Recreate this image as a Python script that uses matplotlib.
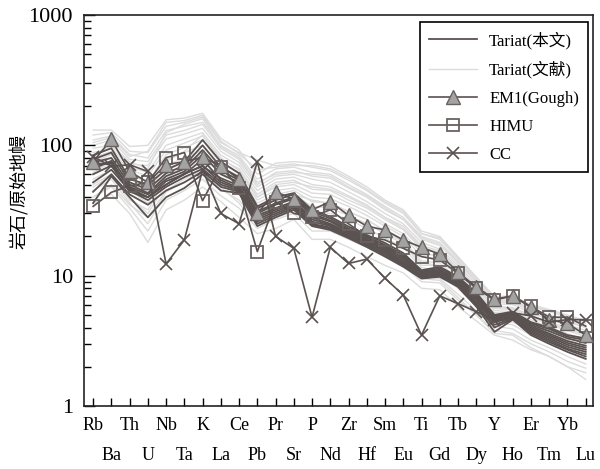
import matplotlib
matplotlib.use("Agg")
from matplotlib import pyplot as plt
from matplotlib.ticker import LogLocator, NullFormatter

plt.rcParams['font.family'] = ['Liberation Serif', 'Noto Sans CJK SC']

elements = ['Rb', 'Ba', 'Th', 'U', 'Nb', 'Ta', 'K', 'La', 'Ce', 'Pb', 'Pr', 'Sr', 'P', 'Nd',
            'Zr', 'Hf', 'Sm', 'Eu', 'Ti', 'Gd', 'Tb', 'Dy', 'Y', 'Ho', 'Er', 'Tm', 'Yb', 'Lu']

# Tariat (this study) - primitive mantle normalised
tariat_this = [
    [84, 95, 55, 50, 65, 75, 110, 75, 61, 34, 40, 43, 32, 28.4, 23.8, 20.5, 17.8, 14.9, 11.0, 11.7, 9.8, 7.4, 5.0, 5.3, 4.4, 4.0, 3.5, 3.3],
    [78, 88, 52, 46, 61, 70, 100, 68, 57, 33, 38, 42, 31, 27.5, 23, 20, 17.2, 14.4, 10.8, 11.4, 9.6, 7.2, 4.9, 5.2, 4.3, 3.9, 3.4, 3.2],
    [74, 80, 50, 43, 58, 66, 92, 64, 54, 31, 36, 40, 30, 26.5, 22.5, 19.5, 16.8, 14.0, 10.6, 11.1, 9.4, 7.0, 4.8, 5.1, 4.2, 3.75, 3.3, 3.05],
    [71, 74, 48, 42, 55, 63, 85, 60, 52, 30, 35, 39, 29, 26, 22, 19, 16.4, 13.6, 10.4, 10.9, 9.2, 6.8, 4.7, 5.0, 4.1, 3.6, 3.15, 2.9],
    [70, 73, 47, 40, 50, 61, 69, 56, 49, 29, 33, 37, 28, 25, 21.5, 18.6, 16, 13.2, 10.2, 10.7, 9.0, 6.6, 4.6, 4.9, 4.0, 3.5, 3.05, 2.8],
    [66, 76, 46, 40, 53, 60, 78, 54, 47, 28, 32, 36, 27, 24.5, 21, 18.2, 15.6, 12.8, 10.1, 10.5, 8.8, 6.4, 4.5, 4.8, 3.9, 3.4, 2.95, 2.7],
    [60, 70, 44, 40, 50, 60, 70, 52, 46, 27, 31, 35, 26, 24, 20.5, 17.8, 15.2, 12.5, 10, 10.3, 8.6, 6.2, 4.4, 4.75, 3.8, 3.3, 2.85, 2.6],
    [52, 65, 45, 38, 48, 57, 66, 50, 45, 26, 30, 34, 25, 23.4, 20, 17.4, 14.8, 12.2, 9.8, 10.1, 8.5, 6.0, 4.2, 4.7, 3.7, 3.2, 2.75, 2.5],
    [44, 60, 42, 35, 45, 52, 63, 48, 44, 25, 29, 33, 24.5, 23, 19.8, 17, 14.4, 12, 9.6, 10, 8.3, 5.9, 4.0, 4.65, 3.6, 3.1, 2.7, 2.4],
    [36, 58, 40, 28, 40, 47, 60, 45, 43, 24, 28, 32, 24, 22.4, 19.4, 16.6, 14, 11.7, 9.5, 9.8, 8.2, 5.8, 3.7, 4.6, 3.5, 3.0, 2.6, 2.3],
]

# Tariat (literature)
tariat_lit = [
    [131, 131, 98, 100, 157, 162, 176, 113, 92, 60, 73, 75, 73, 69, 58, 48, 38, 32, 22, 20, 14, 9.8, 6.9, 7.0, 6.0, 5.5, 5.0, 4.5],
    [120, 125, 90, 88, 140, 150, 165, 105, 88, 77, 70, 72, 68, 64, 54, 45, 36, 30, 21, 19, 13.5, 9.5, 6.7, 6.8, 5.8, 5.3, 4.8, 4.3],
    [110, 118, 85, 80, 130, 140, 150, 100, 83, 55, 66, 68, 62, 60, 50, 42, 34, 28, 20, 18, 13, 9.2, 6.5, 6.5, 5.6, 5.0, 4.6, 4.1],
    [100, 110, 78, 75, 120, 130, 145, 95, 78, 50, 62, 64, 58, 56, 47, 40, 32, 27, 19, 17, 12.5, 9.0, 6.3, 6.2, 5.4, 4.8, 4.4, 4.0],
    [95, 100, 72, 70, 112, 122, 135, 90, 74, 48, 58, 60, 55, 52, 44, 37, 30, 25, 18, 16, 12, 8.6, 6.1, 6.0, 5.2, 4.6, 4.2, 3.8],
    [88, 95, 68, 62, 100, 112, 125, 84, 70, 45, 55, 57, 50, 48, 41, 35, 28, 24, 17, 15.5, 11.5, 8.3, 5.8, 5.7, 5.0, 4.4, 4.0, 3.6],
    [80, 90, 65, 58, 92, 104, 118, 78, 66, 42, 52, 54, 46, 45, 38, 33, 27, 22.5, 16, 15, 11, 8.0, 5.6, 5.5, 4.8, 4.2, 3.8, 3.4],
    [75, 85, 60, 52, 85, 96, 110, 72, 62, 40, 48, 50, 43, 42, 36, 31, 25, 21, 15, 14, 10.5, 7.6, 5.4, 5.3, 4.6, 4.0, 3.6, 3.2],
    [70, 80, 56, 48, 78, 88, 100, 68, 58, 38, 45, 47, 40, 39, 34, 29, 24, 20, 14, 13.2, 10, 7.2, 5.2, 5.1, 4.4, 3.8, 3.4, 3.0],
    [65, 75, 52, 44, 70, 80, 92, 64, 54, 36, 42, 45, 37, 36, 31, 27, 22, 18.5, 13, 12.5, 9.5, 6.8, 5.0, 4.9, 4.2, 3.6, 3.2, 2.9],
    [60, 70, 48, 40, 64, 74, 85, 60, 50, 33, 39, 42, 34, 33, 29, 25, 21, 17.5, 12, 12, 9.0, 6.5, 4.8, 4.7, 4.0, 3.4, 3.0, 2.7],
    [55, 65, 45, 36, 58, 68, 78, 55, 46, 30, 36, 39, 31, 30, 27, 23, 19.5, 16.5, 11.5, 11, 8.5, 6.2, 4.6, 4.4, 3.8, 3.2, 2.8, 2.5],
    [50, 60, 40, 30, 50, 60, 70, 50, 42, 28, 33, 36, 28, 27, 24, 21, 18, 15, 10.5, 10.5, 8.0, 5.8, 4.4, 4.2, 3.5, 3.0, 2.6, 2.3],
    [45, 55, 36, 25, 44, 52, 62, 46, 38, 26, 30, 33, 25, 25, 22, 19, 16, 13.5, 10, 9.5, 7.2, 5.4, 4.1, 3.9, 3.2, 2.8, 2.4, 2.1],
    [40, 48, 33, 22, 38, 45, 55, 41, 33, 23, 27, 30, 22, 22, 19, 16.5, 14, 12, 9, 8.8, 6.5, 5.0, 3.8, 3.6, 3.0, 2.6, 2.2, 1.95],
    [36, 42, 30, 18, 32, 38, 48, 37, 28, 21, 23, 27, 19, 19, 16.5, 14, 12, 10.5, 8, 7.8, 5.8, 4.5, 3.5, 3.2, 2.7, 2.4, 2.0, 1.8],
    [105, 115, 82, 90, 150, 155, 170, 108, 86, 65, 68, 70, 70, 66, 56, 46, 37, 31, 21, 19.5, 13.8, 9.6, 6.8, 6.9, 5.9, 5.4, 4.9, 4.4],
    [85, 100, 75, 66, 125, 145, 160, 98, 80, 52, 60, 62, 60, 58, 48, 41, 33, 27, 19.5, 17.5, 12.8, 9.1, 6.4, 6.4, 5.5, 4.9, 4.5, 4.0],
    [62, 74, 50, 45, 75, 90, 120, 80, 64, 40, 50, 52, 48, 46, 40, 34, 28, 23, 16.5, 15, 11.2, 8.1, 5.7, 5.6, 4.9, 4.3, 3.9, 3.5],
    [48, 58, 38, 32, 55, 70, 90, 62, 50, 32, 40, 42, 38, 36, 31, 27, 22, 18, 12.5, 12, 9.0, 6.6, 4.9, 4.8, 4.1, 3.5, 3.0, 2.6],
    [40, 50, 35, 28, 45, 55, 64, 48, 36, 24, 28, 31, 24, 23, 20, 17.5, 15, 12.5, 9.5, 9.2, 6.8, 5.0, 3.6, 3.5, 2.8, 2.4, 2.0, 1.6],
]

em1 = [75, 111, 63, 52, 71, 75, 81, 69.5, 55, 30, 44, 38.5, 32, 37, 29, 24, 22.4, 18.8, 16.5, 14.6, 10.6, 8.2, 6.6, 7.0, 5.7, 4.6, 4.3, 3.5]
himu = [34, 43.6, 48.8, 52, 80.5, 88, 37.6, 68.7, 47, 15.3, 37, 30, 28.4, 32, 25, 20, 18.8, 16.2, 14, 13.2, 10.4, 8.0, 6.5, 7.0, 5.8, 4.8, 4.8, 4.1]
cc = [82, 69, 71, 63, 12.3, 18.8, 65, 30, 25, 75, 20, 16.2, 4.8, 16.5, 12.4, 13.4, 9.55, 7.1, 3.5, 7.0, 6.1, 5.3, 4.6, 5.2, 4.9, 4.4, 4.6, 4.6]

dark = '#5a5250'
light = '#dcdcdc'
x = list(range(len(elements)))

fig = plt.figure(figsize=(6.0, 4.69), dpi=100)
ax = fig.add_axes([84 / 600, 1 - 406 / 469, 509 / 600, 391 / 469])

for i, row in enumerate(tariat_lit):
    ax.plot(x, row, color=light, lw=1.0, label='Tariat(文献)' if i == 0 else None, zorder=1)
for i, row in enumerate(tariat_this):
    ax.plot(x, row, color=dark, lw=1.3, label='Tariat(本文)' if i == 0 else None, zorder=2)

ax.plot(x, em1, color=dark, lw=1.2, marker='^', ms=9.5, mfc='#a3a3a3', mec='#6a6260',
        mew=1.0, label='EM1(Gough)', zorder=4)
ax.plot(x, himu, color=dark, lw=1.2, marker='s', ms=8.5, mfc='none', mec='#6a6260',
        mew=1.3, label='HIMU', zorder=3)
ax.plot(x, cc, color=dark, lw=1.2, marker='x', ms=8, mec=dark, mew=1.2,
        label='CC', zorder=5)

# legend order as in the reference
handles, labels = ax.get_legend_handles_labels()
order = ['Tariat(本文)', 'Tariat(文献)', 'EM1(Gough)', 'HIMU', 'CC']
hmap = dict(zip(labels, handles))
leg = ax.legend([hmap[k] for k in order], order, loc='upper left',
                bbox_to_anchor=(0.66, 0.982), borderaxespad=0, fontsize=12,
                frameon=True, fancybox=False, edgecolor='black', framealpha=1,
                handlelength=2.9, handletextpad=0.7, labelspacing=0.72,
                borderpad=0.55)
leg.get_frame().set_linewidth(1.2)

ax.set_yscale('log')
ax.set_ylim(1, 1000)
ax.set_xlim(-0.5, 27.4)
ax.yaxis.set_minor_locator(LogLocator(base=10, subs=range(2, 10), numticks=10))
ax.yaxis.set_minor_formatter(NullFormatter())
ax.set_yticks([1, 10, 100, 1000])
ax.set_yticklabels(['1', '10', '100', '1000'])

# element names in two staggered rows
ax.set_xticks(x)
ax.set_xticklabels([])
for i, e in enumerate(elements):
    ypos = -0.049 if i % 2 == 0 else -0.127
    ax.text(i, ypos, e, transform=ax.get_xaxis_transform(), ha='center', va='center',
            fontsize=13)

ax.tick_params(axis='x', direction='in', length=6, width=1)
ax.tick_params(axis='y', which='major', direction='in', length=8, width=1, labelsize=16, pad=8)
ax.tick_params(axis='y', which='minor', direction='in', length=5, width=1)
for s in ax.spines.values():
    s.set_linewidth(1.2)
    s.set_color('#222222')

ax.set_ylabel('岩石/原始地幔', fontsize=13, family=['Noto Sans CJK SC'])
ax.yaxis.set_label_coords(-0.108, 0.55)

fig.savefig('out.png', dpi=100)
